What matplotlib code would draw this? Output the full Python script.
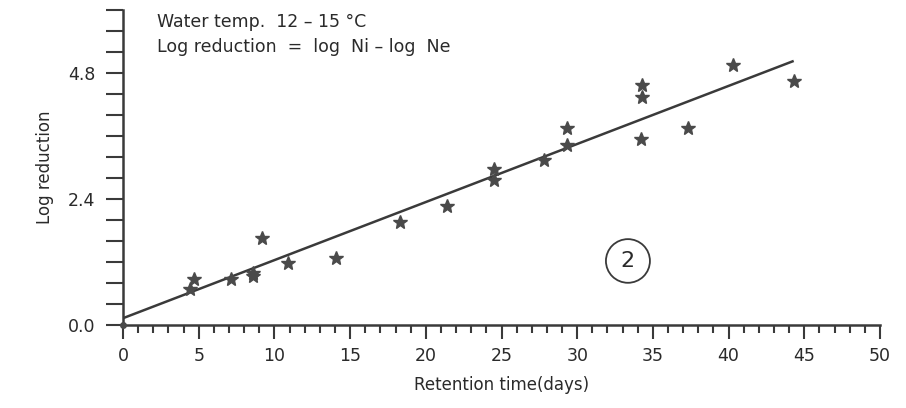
import matplotlib
matplotlib.use("Agg")
import matplotlib.pyplot as plt
from matplotlib.ticker import MultipleLocator
from matplotlib.patches import Ellipse

# Data
retention_days = [4.4, 4.7, 7.1, 8.6, 8.6, 9.2, 10.9, 14.1, 18.3, 21.4,
                  24.5, 24.5, 27.8, 29.3, 29.3, 34.2, 34.3, 34.3, 37.3, 40.3, 44.3]
log_reduction = [0.69, 0.88, 0.87, 0.93, 1.00, 1.66, 1.18, 1.27, 1.97, 2.27,
                 2.77, 2.98, 3.15, 3.43, 3.75, 3.55, 4.34, 4.57, 3.75, 4.95, 4.64]
origin_x = [0.0]
origin_y = [0.0]
fit_x = [0.0, 44.3]
fit_y = [0.13, 5.03]

x_ticks = [0, 5, 10, 15, 20, 25, 30, 35, 40, 45, 50]
x_tick_labels = ["0", "5", "10", "15", "20", "25", "30", "35", "40", "45", "50"]
y_ticks = [0.0, 2.4, 4.8]
y_tick_labels = ["0.0", "2.4", "4.8"]

ink = "#3a3a3a"
txt = "#2a2a2a"
plt.rcParams["font.family"] = ["DejaVu Sans"]

fig = plt.figure(figsize=(9.06, 4.08), dpi=100)
ax = fig.add_axes([0.1358, 0.2034, 0.8355, 0.7721])

ax.plot(fit_x, fit_y, color=ink, lw=1.8, solid_capstyle="butt")
ax.plot(retention_days, log_reduction, linestyle="none", marker="*",
        markersize=10, color="#4a4a4a", markeredgecolor="#4a4a4a")
ax.plot(origin_x, origin_y, linestyle="none", marker="o", markersize=4,
        color="#4a4a4a", clip_on=False, zorder=5)

ax.set_xlim(0, 50)
ax.set_ylim(0, 6.0)

for s in ["top", "right"]:
    ax.spines[s].set_visible(False)
for s in ["left", "bottom"]:
    ax.spines[s].set_color(ink)
    ax.spines[s].set_linewidth(1.8)

ax.set_xticks(x_ticks)
ax.set_xticklabels(x_tick_labels)
ax.xaxis.set_minor_locator(MultipleLocator(1))
ax.set_yticks(y_ticks)
ax.set_yticklabels(y_tick_labels)
ax.yaxis.set_minor_locator(MultipleLocator(0.4))

ax.tick_params(axis="x", which="major", direction="out", length=10, width=1.5,
               color=ink, labelsize=12.5, labelcolor=txt, pad=6)
ax.tick_params(axis="x", which="minor", direction="out", length=6, width=1.5,
               color=ink)
ax.tick_params(axis="y", which="both", direction="out", length=12, width=1.5,
               color=ink, labelsize=12.5, labelcolor=txt, pad=8)

ax.set_xlabel("Retention time(days)", fontsize=12, color=txt, labelpad=8)
ax.set_ylabel("Log reduction", fontsize=12, color=txt, labelpad=10)

ax.text(2.25, 5.77, "Water temp.  12 – 15 °C", fontsize=12.5, color=txt,
        va="center", ha="left")
ax.text(2.25, 5.29, "Log reduction  =  log  Ni – log  Ne", fontsize=12.5,
        color=txt, va="center", ha="left")

# circled "2"
ax.text(33.35, 1.22, "2", fontsize=16, color=txt, ha="center", va="center")
circ = Ellipse((33.35, 1.22), width=22 * 2 / 15.14, height=22 * 2 / 52.9,
               fill=False, edgecolor=ink, lw=1.3)
ax.add_patch(circ)

fig.savefig("out.png", dpi=100, facecolor="white")
